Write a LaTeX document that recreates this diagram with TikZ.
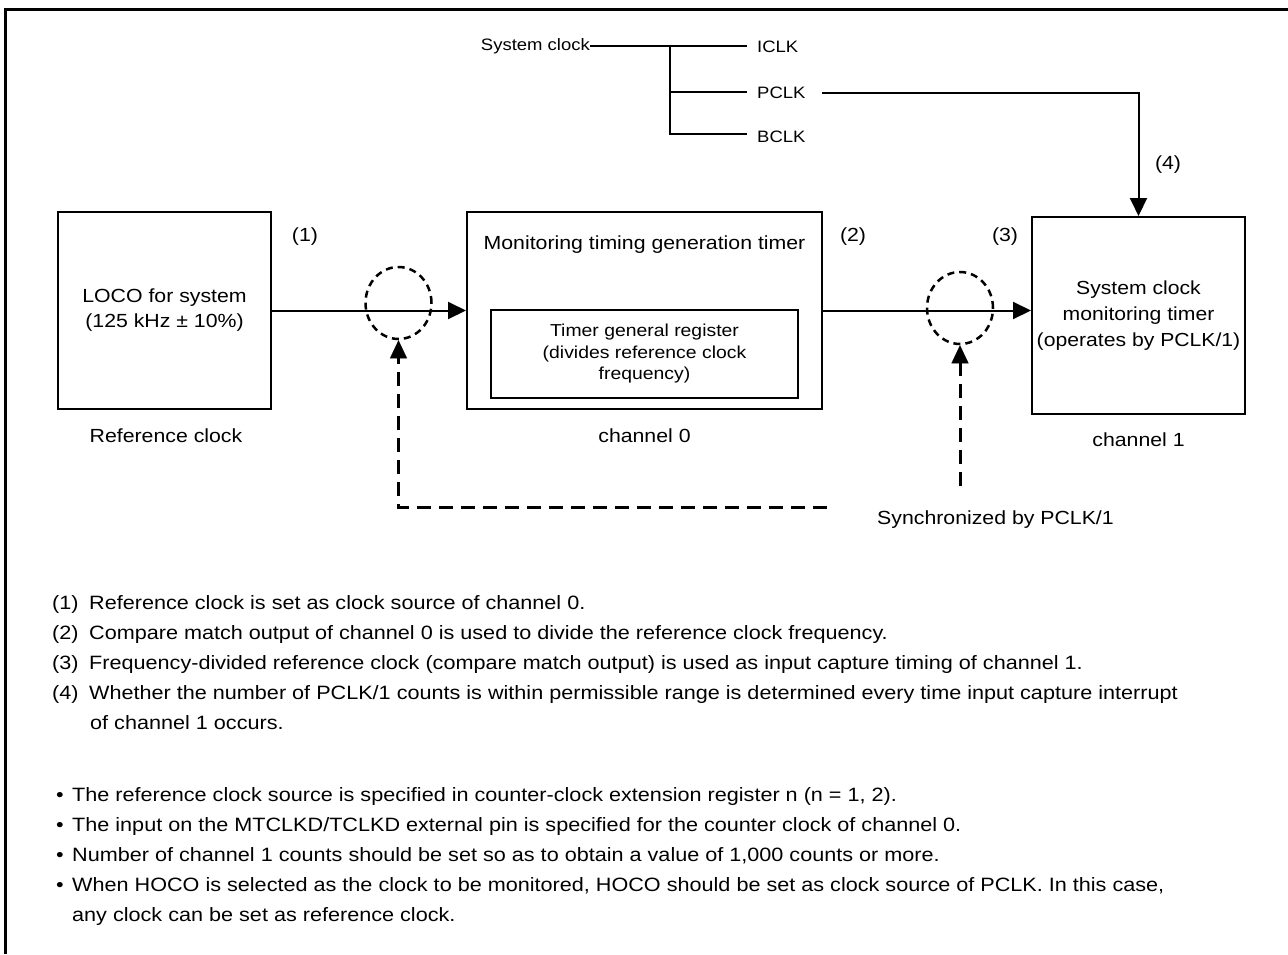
\documentclass[tikz,border=0pt]{standalone}
\usepackage{fontspec}
\setmainfont[FakeStretch=1.12]{Liberation Sans}
\usetikzlibrary{arrows.meta,shapes.geometric}
\begin{document}
\begin{tikzpicture}[x=1pt,y=-1pt,
 box/.style={draw,line width=2pt,inner sep=0pt,align=center,font=\fontsize{19}{25}\selectfont},
 lbl/.style={font=\fontsize{19}{23}\selectfont,inner sep=0pt},
 tree/.style={font=\fontsize{16.5}{20}\selectfont,inner sep=0pt},
 note/.style={font=\fontsize{19.3}{22}\selectfont,inner sep=0pt,anchor=base west},
 wire/.style={line width=2pt},
 arr/.style={line width=2pt,-{Triangle[length=18pt,width=17pt]}},
 dsh/.style={line width=3pt,dash pattern=on 14pt off 8pt},
 darr/.style={dsh,-{Triangle[length=18pt,width=17pt,line width=0.1pt]}},
 ring/.style={draw,ellipse,line width=2.5pt,dash pattern=on 7pt off 5pt,minimum width=66pt,minimum height=72pt,inner sep=0pt}
]
\useasboundingbox (0,0) rectangle (1288,954);
\draw[line width=3pt] (5,954) -- (5,9) -- (1288,9);

% system clock tree
\node[tree,anchor=east] (sys) at (590,46) {System clock};
\node[tree,anchor=west] (iclk) at (757,47) {ICLK};
\node[tree,anchor=west] (pclk) at (757,93) {PCLK};
\node[tree,anchor=west] (bclk) at (757,137) {BCLK};
\coordinate (j1) at (670,46);
\coordinate (j2) at (670,92);
\coordinate (j3) at (670,134);
\draw[wire] (sys.east) -- (j1) -- (747,46);
\draw[wire] (j1) -- (j3) -- (747,134);
\draw[wire] (j2) -- (747,92);

% boxes
\node[box,minimum width=213pt,minimum height=197pt] (loco) at (164.5,310.5) {LOCO for system\\(125 kHz ± 10\%)};
\node[box,minimum width=355pt,minimum height=197pt] (ch0) at (644.5,310.5) {};
\node[lbl] (ch0t) at (644.5,245) {Monitoring timing generation timer};
\node[box,minimum width=307pt,minimum height=88pt,font=\fontsize{17.3}{21.5}\selectfont] (tgr) at (644.5,354) {Timer general register\\(divides reference clock\\frequency)};
\node[box,minimum width=213pt,minimum height=197pt,font=\fontsize{18.9}{26}\selectfont] (ch1) at (1138.5,315.5) {System clock\\monitoring timer\\(operates by PCLK/1)};

\node[lbl] (refl) at (166,436) {Reference clock};
\node[lbl] (ch0l) at (644.5,436) {channel 0};
\node[lbl] (ch1l) at (1138.5,440) {channel 1};
\node[lbl] (n1) at (305,237) {(1)};
\node[lbl] (n2) at (853,237) {(2)};
\node[lbl] (n3) at (1005,237) {(3)};
\node[lbl] (n4) at (1168,165) {(4)};

% rings
\node[ring] (r1) at (398.5,303) {};
\node[ring] (r2) at (960,308) {};

% main arrows
\draw[arr] (loco.east) -- (ch0.west);
\draw[arr] (ch0.east) -- (ch0.east -| ch1.west);
\coordinate (pc) at (822,93);
\draw[arr] (pc) -- (pc -| ch1.north) -- (ch1.north);

% dashed feedback
\coordinate (d1) at (827,507);
\coordinate (d2) at (398.5,507);
\draw[darr] (d1) -- (d2) -- (r1.south);
\coordinate (d3) at (960,486);
\draw[darr] (d3) -- (r2.south);
\node[lbl,anchor=west] (sync) at (877,520) {Synchronized by PCLK/1};

% notes
\node[note] (k1) at (52,609) {(1)};
\node[note] (t1) at (89,609) {Reference clock is set as clock source of channel 0.};
\node[note] (k2) at (52,639) {(2)};
\node[note] (t2) at (89,639) {Compare match output of channel 0 is used to divide the reference clock frequency.};
\node[note] (k3) at (52,669) {(3)};
\node[note] (t3) at (89,669) {Frequency-divided reference clock (compare match output) is used as input capture timing of channel 1.};
\node[note] (k4) at (52,699) {(4)};
\node[note] (t4) at (89,699) {Whether the number of PCLK/1 counts is within permissible range is determined every time input capture interrupt};
\node[note] (t4b) at (90,729) {of channel 1 occurs.};
\node[note] (p1) at (56,801) {•};
\node[note] (b1) at (72,801) {The reference clock source is specified in counter-clock extension register n (n = 1, 2).};
\node[note] (p2) at (56,831) {•};
\node[note] (b2) at (72,831) {The input on the MTCLKD/TCLKD external pin is specified for the counter clock of channel 0.};
\node[note] (p3) at (56,861) {•};
\node[note] (b3) at (72,861) {Number of channel 1 counts should be set so as to obtain a value of 1,000 counts or more.};
\node[note] (p4) at (56,891) {•};
\node[note] (b4) at (72,891) {When HOCO is selected as the clock to be monitored, HOCO should be set as clock source of PCLK. In this case,};
\node[note] (b4b) at (72,921) {any clock can be set as reference clock.};
\end{tikzpicture}
\end{document}
